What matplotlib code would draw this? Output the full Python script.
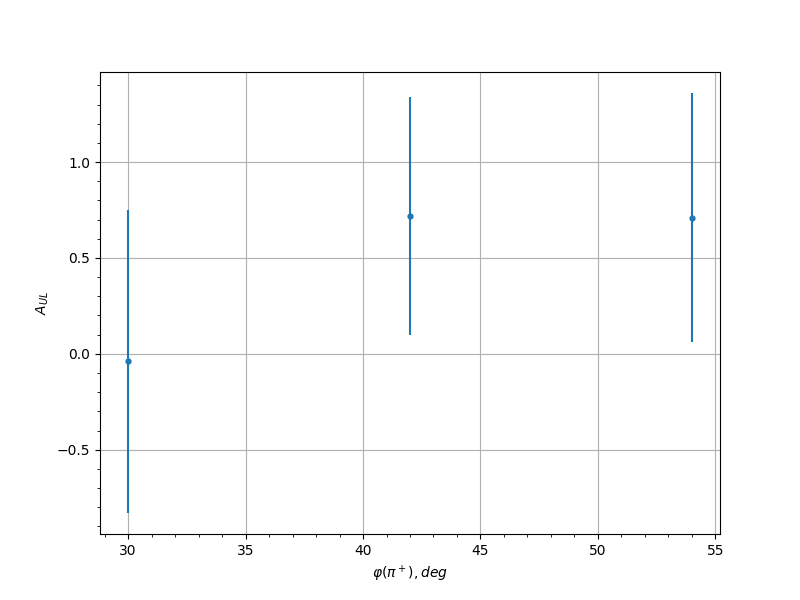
import matplotlib
matplotlib.use("Agg")
import matplotlib.pyplot as plt

phi = [30, 42, 54]
a_ul = [-0.04, 0.72, 0.71]
a_err = [0.79, 0.62, 0.65]

fig, ax = plt.subplots(figsize=(8, 6), dpi=100)
ax.errorbar(phi, a_ul, yerr=a_err, fmt=".", markersize=7)
ax.set_xlabel(r"$\varphi(\pi^+), deg$")
ax.set_ylabel(r"$A_{UL}$")
ax.minorticks_on()
ax.grid(True)

plt.savefig("out.png")
